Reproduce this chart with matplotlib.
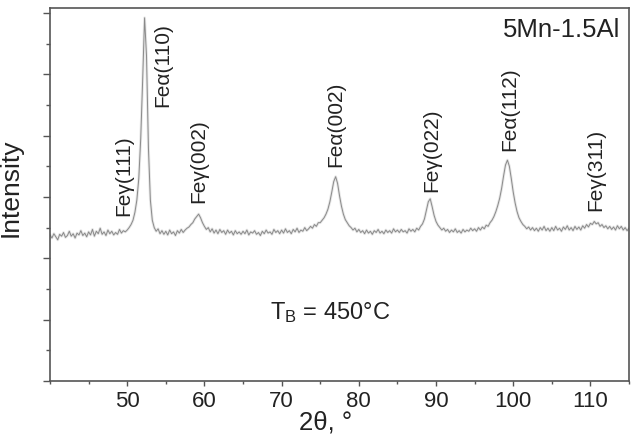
import matplotlib
matplotlib.use('Agg')
import matplotlib.pyplot as plt
import numpy as np
from matplotlib.ticker import MultipleLocator, NullFormatter, FixedLocator

plt.rcParams['font.family'] = ['Liberation Sans', 'DejaVu Sans']
plt.rcParams['mathtext.default'] = 'regular'

# 2theta grid, 0.25 deg steps from 40 to 115
two_theta = np.linspace(40, 115, 301)

# intensity (arb. units), one row = 5 deg
intensity = [
    2.38, 2.33, 2.40, 2.35, 2.30, 2.39, 2.36, 2.42, 2.34, 2.37, 2.44, 2.36, 2.40, 2.33, 2.41, 2.38, 2.45, 2.37, 2.41, 2.35,
    2.43, 2.38, 2.47, 2.36, 2.44, 2.40, 2.49, 2.39, 2.43, 2.37, 2.46, 2.40, 2.44, 2.38, 2.42, 2.39, 2.47, 2.41, 2.45, 2.43,
    2.46, 2.50, 2.55, 2.62, 2.75, 2.95, 3.30, 3.95, 4.90, 5.92, 5.30, 3.80, 2.95, 2.62, 2.50, 2.44, 2.48, 2.40, 2.45, 2.39,
    2.44, 2.38, 2.46, 2.40, 2.43, 2.37, 2.45, 2.41, 2.47, 2.42, 2.46, 2.49, 2.51, 2.55, 2.58, 2.64, 2.68, 2.72, 2.66, 2.58,
    2.52, 2.47, 2.50, 2.43, 2.48, 2.41, 2.46, 2.40, 2.47, 2.42, 2.45, 2.39, 2.46, 2.41, 2.44, 2.38, 2.45, 2.40, 2.43, 2.39,
    2.44, 2.40, 2.46, 2.38, 2.43, 2.41, 2.45, 2.39, 2.42, 2.37, 2.44, 2.40, 2.46, 2.41, 2.43, 2.39, 2.47, 2.42, 2.45, 2.40,
    2.46, 2.41, 2.48, 2.42, 2.45, 2.40, 2.47, 2.43, 2.49, 2.42, 2.46, 2.44, 2.50, 2.45, 2.48, 2.52, 2.49, 2.55, 2.52, 2.58,
    2.58, 2.62, 2.66, 2.72, 2.80, 2.92, 3.08, 3.25, 3.33, 3.22, 3.02, 2.85, 2.72, 2.63, 2.58, 2.53, 2.50, 2.46, 2.49, 2.43,
    2.47, 2.42, 2.45, 2.40, 2.46, 2.41, 2.44, 2.39, 2.45, 2.42, 2.47, 2.41, 2.44, 2.40, 2.46, 2.42, 2.45, 2.41, 2.48, 2.43,
    2.46, 2.42, 2.47, 2.43, 2.45, 2.41, 2.48, 2.44, 2.47, 2.43, 2.49, 2.46, 2.52, 2.56, 2.64, 2.78, 2.92, 2.97, 2.84, 2.70,
    2.60, 2.54, 2.50, 2.46, 2.49, 2.44, 2.47, 2.42, 2.46, 2.43, 2.48, 2.42, 2.45, 2.41, 2.47, 2.43, 2.46, 2.44, 2.49, 2.45,
    2.48, 2.44, 2.50, 2.46, 2.51, 2.48, 2.54, 2.52, 2.58, 2.62, 2.68, 2.76, 2.86, 2.98, 3.14, 3.34, 3.52, 3.60, 3.50, 3.30,
    3.08, 2.90, 2.76, 2.66, 2.60, 2.55, 2.52, 2.48, 2.51, 2.46, 2.50, 2.45, 2.49, 2.44, 2.50, 2.46, 2.52, 2.45, 2.49, 2.44,
    2.50, 2.45, 2.52, 2.46, 2.49, 2.44, 2.51, 2.47, 2.53, 2.46, 2.50, 2.45, 2.52, 2.47, 2.51, 2.46, 2.53, 2.49, 2.55, 2.51,
    2.57, 2.55, 2.60, 2.56, 2.58, 2.52, 2.55, 2.50, 2.53, 2.48, 2.52, 2.47, 2.51, 2.46, 2.53, 2.48, 2.52, 2.46, 2.50, 2.45,
    2.49,
]

x_ticks = [50, 60, 70, 80, 90, 100, 110]

# peak labels: text, 2theta, height of label bottom
peak_names = ['Feγ(111)', 'Feα(110)', 'Feγ(002)', 'Feα(002)', 'Feγ(022)', 'Feα(112)', 'Feγ(311)']
peak_x = [49.5, 54.65, 59.3, 77.0, 89.5, 99.5, 110.7]
peak_y = [2.70, 4.49, 2.92, 3.50, 3.10, 3.76, 2.78]

fig = plt.figure(figsize=(6.33, 4.39), dpi=100)
ax = fig.add_axes([0.079, 0.130, 0.9147, 0.8495])

ax.plot(two_theta, intensity, color='#e6e6e6', lw=2.0, zorder=1)
ax.plot(two_theta, intensity, color='#8a8a8a', lw=0.7, zorder=2)

for name, px, py in zip(peak_names, peak_x, peak_y):
    ax.text(px, py, name, rotation=90, ha='center', va='bottom', fontsize=15, color='#222222')

ax.text(0.985, 0.975, '5Mn-1.5Al', transform=ax.transAxes, ha='right', va='top',
        fontsize=18.5, color='#222222')
ax.text(68.5, 1.13, 'T$_B$ = 450°C', ha='left', va='center', fontsize=17, color='#222222')

ax.set_xlim(40, 115)
ax.set_ylim(0, 6.08)
ax.xaxis.set_major_locator(FixedLocator(x_ticks))
ax.xaxis.set_minor_locator(MultipleLocator(5))
ax.yaxis.set_major_locator(MultipleLocator(1))
ax.yaxis.set_minor_locator(MultipleLocator(0.5))
ax.yaxis.set_major_formatter(NullFormatter())

ax.tick_params(axis='x', which='major', direction='out', length=3.5, width=1, colors='#555555',
               labelsize=16, labelcolor='#222222', pad=3)
ax.tick_params(axis='x', which='minor', direction='out', length=2.5, width=1, colors='#555555')
ax.tick_params(axis='y', which='major', direction='out', length=5, width=1, colors='#555555')
ax.tick_params(axis='y', which='minor', direction='out', length=3, width=1, colors='#555555')

for s in ax.spines.values():
    s.set_color('#555555')
    s.set_linewidth(1.2)

ax.set_xlabel('2θ, °', fontsize=18.5, color='#222222')
ax.xaxis.set_label_coords(0.476, -0.077)
ax.set_ylabel('Intensity', fontsize=19, color='#222222')
ax.yaxis.set_label_coords(-0.047, 0.52)

fig.savefig('out.png', dpi=100)
